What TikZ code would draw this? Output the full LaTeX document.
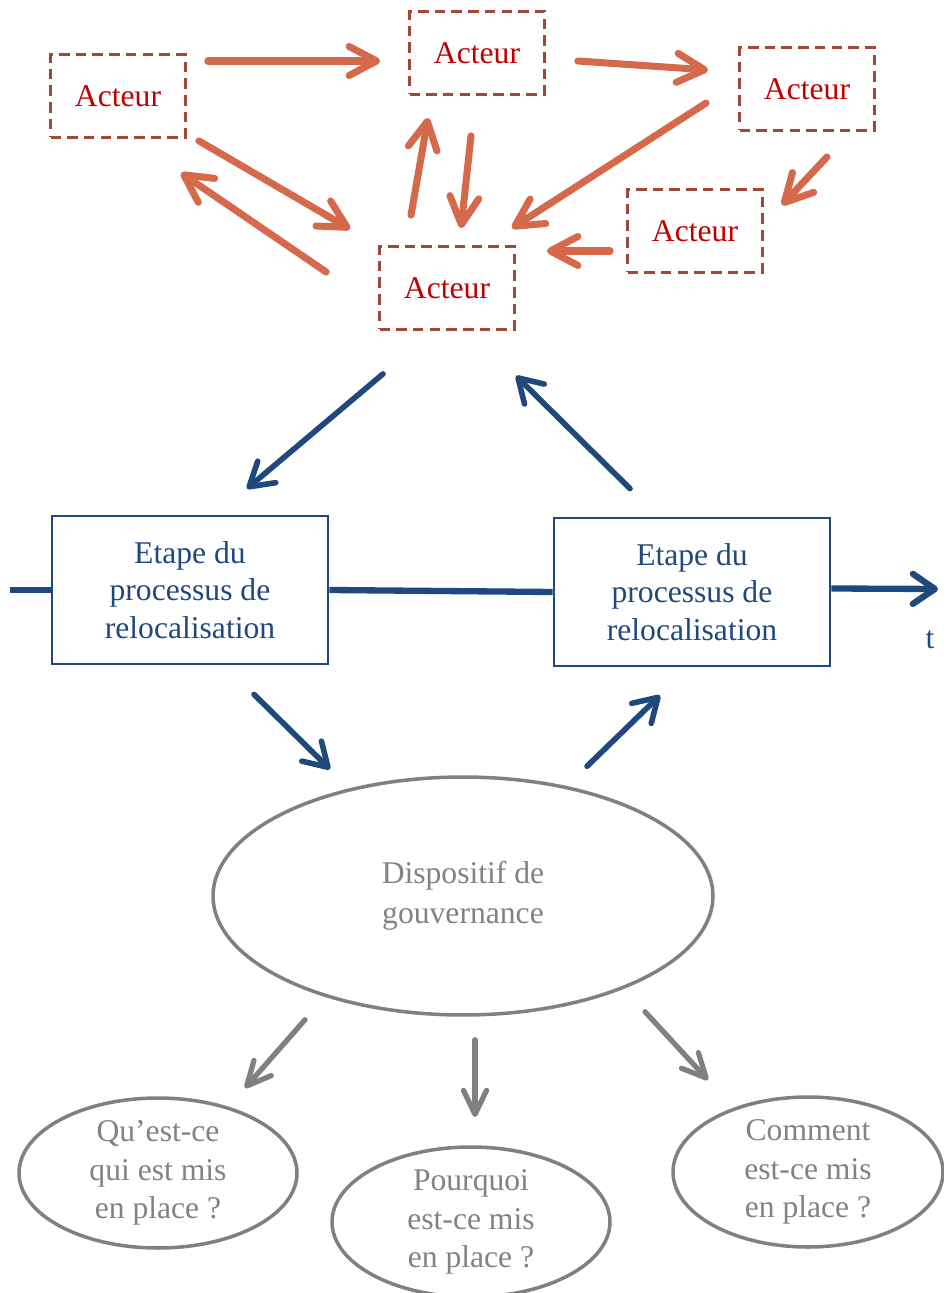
\documentclass[tikz,border=0pt]{standalone}
\usepackage{fontspec}
\setmainfont{Liberation Serif}
\usetikzlibrary{shapes.geometric, arrows.meta}

\definecolor{acteurred}{RGB}{192,0,0}
\definecolor{acteurframe}{RGB}{160,72,56}
\definecolor{liencolor}{RGB}{214,104,76}
\definecolor{etapeblue}{RGB}{31,73,125}
\definecolor{dispgray}{RGB}{128,128,128}
\definecolor{dispgraytext}{RGB}{130,130,130}

\tikzset{
  acteur/.style={draw=acteurframe, line width=1.6pt, dash pattern=on 6pt off 3.5pt,
    text=acteurred, minimum width=2.7cm, minimum height=1.66cm, inner sep=0pt,
    font=\fontsize{18}{22}\selectfont},
  etape/.style={draw=etapeblue, line width=1.6pt, text=etapeblue, align=center,
    minimum width=5.52cm, minimum height=2.96cm, inner sep=0pt,
    font=\fontsize{18}{21.5}\selectfont},
  dispo/.style={ellipse, draw=dispgray, line width=2pt, text=dispgraytext, align=center,
    inner sep=0pt, font=\fontsize{18}{22.5}\selectfont},
  question/.style={dispo, inner sep=-0.7cm, minimum width=5.56cm, minimum height=3cm,
    font=\fontsize{18}{21.8}\selectfont},
  lien/.style={draw=liencolor, line width=4pt, line cap=round,
    -{Straight Barb[round, length=5.5mm, width=5.8mm]}},
  fleche/.style={draw=etapeblue, line width=3.2pt, line cap=round,
    -{Straight Barb[round, length=4.6mm, width=5.6mm]}},
  grisfleche/.style={draw=dispgray, line width=3pt, line cap=round,
    -{Straight Barb[round, length=4.8mm, width=4.6mm]}},
}

\begin{document}
\begin{tikzpicture}[x=0.02cm, y=-0.02cm]
  \useasboundingbox (0,0) rectangle (943,1293);

  % Acteurs
  \node[acteur] (A1) at (118,96) {Acteur};
  \node[acteur] (A2) at (477,53) {Acteur};
  \node[acteur] (A3) at (807,89) {Acteur};
  \node[acteur] (A4) at (695,231) {Acteur};
  \node[acteur] (A5) at (447,288) {Acteur};

  % Liens entre acteurs
  \draw[lien] ([shift={(21,-35)}]A1.east) -- ([shift={(-28,8)}]A2.west);
  \draw[lien] ([shift={(32,8)}]A2.east) -- ([shift={(-30,-19)}]A3.west);
  \draw[lien] ([shift={(12,2)}]A1.south east) -- ([shift={(-28,-16)}]A5.north west);
  \draw[lien] ([shift={(-52,-16)}]A5.west) -- ([shift={(-6,34)}]A1.south east);
  \draw[lien] ([shift={(-36,-30)}]A5.north) -- ([shift={(-49,22)}]A2.south);
  \draw[lien] ([shift={(-6,40)}]A2.south) -- ([shift={(14,-17)}]A5.north);
  \draw[lien] ([shift={(-32,14)}]A3.west) -- ([shift={(-4,-17)}]A5.north east);
  \draw[lien] ([shift={(20,25)}]A3.south) -- ([shift={(18,17)}]A4.north east);
  \draw[lien] ([shift={(-16,20)}]A4.west) -- ([shift={(31,-37)}]A5.east);

  % Etapes du processus
  \node[etape] (E1) at (190,590) {Etape du\\processus de\\relocalisation};
  \node[etape] (E2) at (692,592) {Etape du\\processus de\\relocalisation};

  % Axe du temps
  \coordinate (t0) at (10,590);
  \coordinate (t1) at (938,589);
  \draw[etapeblue, line width=3.6pt] (t0) -- (E1.west);
  \draw[etapeblue, line width=3.6pt] (E1.east) -- (E2.west);
  \draw[etapeblue, line width=3.6pt, -{Straight Barb[round, length=4.4mm, width=6mm]}] ([yshift=2]E2.east) -- (t1);
  \node[text=etapeblue, font=\fontsize{18}{22}\selectfont] (t) at (930,640) {t};

  % Dispositif et questions
  \node[dispo, minimum width=10cm, minimum height=4.76cm] (G) at (463,896) {Dispositif de\\gouvernance};
  \node[question] (Q) at (158,1173) {Qu'est-ce\\qui est mis\\en place ?};
  \node[question] (P) at (471,1222) {Pourquoi\\est-ce mis\\en place ?};
  \node[question, minimum width=5.4cm] (C) at (808,1172) {Comment\\est-ce mis\\en place ?};

  % Fleches bleues
  \draw[fleche] ([shift={(-64,43)}]A5.south) -- ([shift={(57,-26)}]E1.north);
  \draw[fleche] ([shift={(-62,-28)}]E2.north) -- ([shift={(69,45)}]A5.south);
  \draw[fleche] ([shift={(64,29)}]E1.south) -- ([shift={(-133,-6)}]G.north);
  \draw[fleche] ([shift={(124,-9)}]G.north) -- ([shift={(-32,28)}]E2.south);

  % Fleches grises
  \draw[grisfleche] ([shift={(-158,3)}]G.south) -- ([shift={(87,-85)}]Q.center);
  \draw[grisfleche] ([shift={(12,23)}]G.south) -- ([shift={(4,-105)}]P.center);
  \draw[grisfleche] ([shift={(182,-5)}]G.south) -- ([shift={(-100,-92)}]C.center);
\end{tikzpicture}
\end{document}
